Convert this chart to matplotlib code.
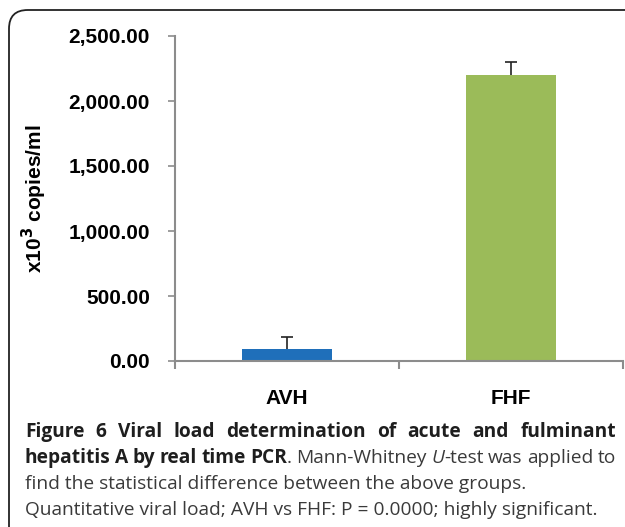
import matplotlib.pyplot as plt
from matplotlib.patches import FancyBboxPatch

# data
groups = ['AVH', 'FHF']
load = [90, 2200]
load_err = [95, 100]
bar_colors = ['#1f6fba', '#9bbb59']
yticks = [0, 500, 1000, 1500, 2000, 2500]
ytick_labels = ['0.00', '500.00', '1,000.00', '1,500.00', '2,000.00', '2,500.00']
ylabel = r'x10$^{\mathbf{3}}$ copies/ml'

# caption lines: list of words, each word a list of (text, style) pieces
B, R, I = 'bold', 'normal', 'italic'
caption = [
    ([[('Figure', B)], [('6', B)], [('Viral', B)], [('load', B)], [('determination', B)],
      [('of', B)], [('acute', B)], [('and', B)], [('fulminant', B)]], True),
    ([[('hepatitis', B)], [('A', B)], [('by', B)], [('real', B)], [('time', B)],
      [('PCR', B), ('.', R)], [('Mann-Whitney', R)], [('U', I), ('-test', R)],
      [('was', R)], [('applied', R)], [('to', R)]], True),
    ([[('find the statistical difference between the above groups.', R)]], False),
    ([[('Quantitative viral load; AVH vs FHF: P = 0.0000; highly significant.', R)]], False),
]

W, H = 625, 527
fig = plt.figure(figsize=(W / 100, H / 100), dpi=100)
fig.patch.set_facecolor('white')

# rounded frame, cut off at right and bottom like the reference
frame = FancyBboxPatch((9 / W, -0.2), 1.2, 1 - 10 / H + 0.2,
                       boxstyle='round,pad=0,rounding_size=0.03',
                       transform=fig.transFigure, fill=False,
                       edgecolor='#222222', linewidth=1.3, mutation_aspect=W / H)
fig.patches.append(frame)

ax = fig.add_axes([175 / W, 1 - 361 / H, 448 / W, 325 / H])
x = list(range(len(groups)))
ax.bar(x, load, width=0.40, color=bar_colors, zorder=2)
_, caps, _ = ax.errorbar(x, load, yerr=[[0] * len(load_err), load_err], fmt='none',
                         ecolor='#222222', elinewidth=1.2, capsize=4, capthick=1.2, zorder=3)
caps[0].set_visible(False)  # only the upper cap

ax.set_xlim(-0.5, 1.5)
ax.set_ylim(0, 2500)
ax.set_yticks(yticks)
ax.set_yticklabels(ytick_labels)
ax.set_xticks(x)
ax.set_xticklabels(groups)
ax.set_xticks([-0.5, 0.5, 1.5], minor=True)

for s in ['top', 'right']:
    ax.spines[s].set_visible(False)
for s in ['left', 'bottom']:
    ax.spines[s].set_color('#8c8c8c')
    ax.spines[s].set_linewidth(1.5)

ax.tick_params(axis='y', direction='out', length=5, width=1.2, color='#8c8c8c', pad=13)
ax.tick_params(axis='x', which='major', length=0, pad=20)
ax.tick_params(axis='x', which='minor', direction='out', length=6, width=1.5, color='#8c8c8c')
for lab in ax.get_yticklabels() + ax.get_xticklabels():
    lab.set_fontfamily('Liberation Sans')
    lab.set_fontweight('bold')
    lab.set_fontsize(15)
ax.set_ylabel(ylabel, fontfamily='Liberation Sans', fontweight='bold', fontsize=15, labelpad=14)

# caption; the first two lines are justified
cap_font = 'Open Sans'
cap_size = 13.8
left, right = 25, 616
base_y = [437, 463, 489, 515]
r = fig.canvas.get_renderer()


def piece_kw(style):
    kw = dict(fontfamily=cap_font, fontsize=cap_size, color='#3a3a3a', va='baseline', ha='left')
    if style == B:
        kw['fontweight'] = 'bold'
        kw['color'] = '#1e1e1e'
    elif style == I:
        kw['fontstyle'] = 'italic'
    return kw


def width_of(s, style):
    t = fig.text(0, 0, s, **piece_kw(style))
    w = t.get_window_extent(r).width
    t.remove()
    return w


for (words, justify), y in zip(caption, base_y):
    if not justify:
        s, st = words[0][0]
        fig.text(left / W, 1 - y / H, s, **piece_kw(st))
        continue
    widths = [[width_of(s, st) for s, st in w] for w in words]
    total = sum(sum(ws) for ws in widths)
    gap = (right - left - total) / (len(words) - 1)
    xpos = left
    for w, ws in zip(words, widths):
        for (s, st), pw in zip(w, ws):
            fig.text(xpos / W, 1 - y / H, s, **piece_kw(st))
            xpos += pw
        xpos += gap

fig.savefig('out.png', dpi=100)
